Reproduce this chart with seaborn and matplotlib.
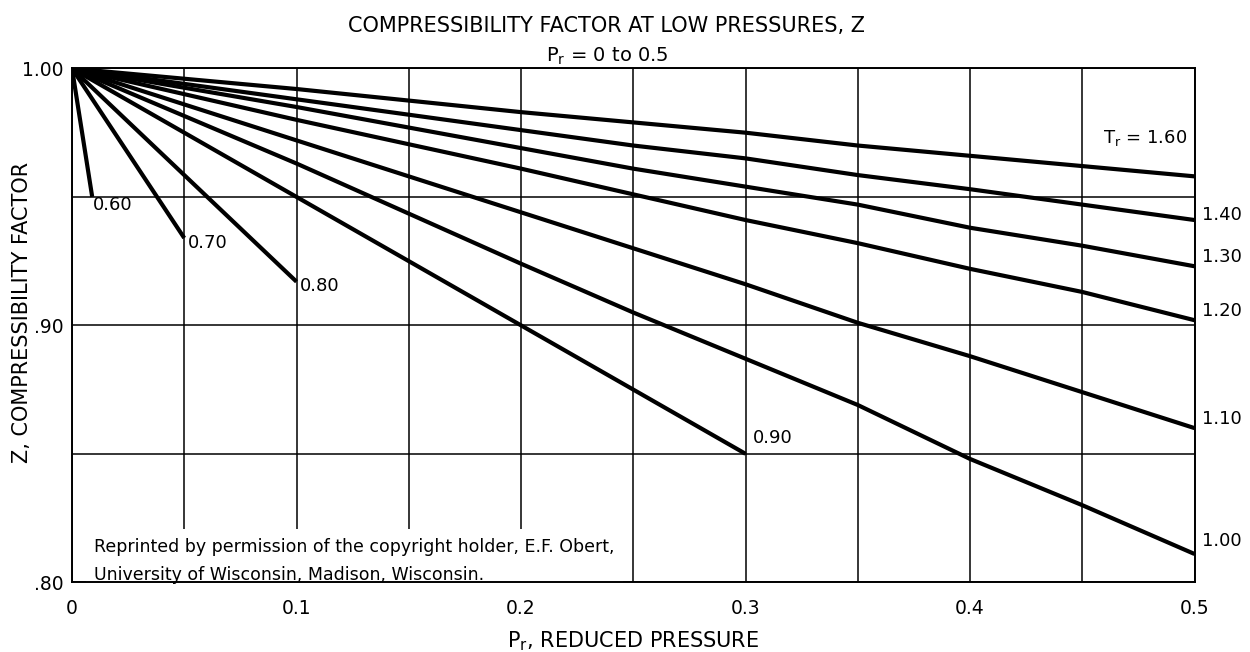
import numpy as np
import pandas as pd
import matplotlib
matplotlib.use("Agg")
import matplotlib.pyplot as plt
import seaborn as sns
from matplotlib.ticker import MultipleLocator

# curve data (Pr, Z) for each reduced temperature
tr_labels = ["0.60", "0.70", "0.80", "0.90", "1.00", "1.10", "1.20", "1.30", "1.40", "1.60"]
pr_060 = [0.0, 0.009]
z_060 = [1.0, 0.950]
pr_070 = [0.0, 0.05]
z_070 = [1.0, 0.934]
pr_080 = [0.0, 0.1]
z_080 = [1.0, 0.917]
pr_090 = [0.0, 0.1, 0.2, 0.25, 0.3]
z_090 = [1.0, 0.950, 0.900, 0.875, 0.850]
pr_full = [0.0, 0.1, 0.2, 0.25, 0.3, 0.35, 0.4, 0.45, 0.5]
z_100 = [1.0, 0.963, 0.924, 0.905, 0.887, 0.869, 0.848, 0.830, 0.811]
z_110 = [1.0, 0.972, 0.944, 0.930, 0.916, 0.901, 0.888, 0.874, 0.860]
z_120 = [1.0, 0.980, 0.961, 0.951, 0.941, 0.932, 0.922, 0.913, 0.902]
z_130 = [1.0, 0.985, 0.969, 0.961, 0.954, 0.947, 0.938, 0.931, 0.923]
z_140 = [1.0, 0.988, 0.976, 0.970, 0.965, 0.9585, 0.953, 0.947, 0.941]
z_160 = [1.0, 0.992, 0.983, 0.979, 0.975, 0.970, 0.966, 0.962, 0.958]

curves = {
    "0.60": (pr_060, z_060), "0.70": (pr_070, z_070), "0.80": (pr_080, z_080),
    "0.90": (pr_090, z_090), "1.00": (pr_full, z_100), "1.10": (pr_full, z_110),
    "1.20": (pr_full, z_120), "1.30": (pr_full, z_130), "1.40": (pr_full, z_140),
    "1.60": (pr_full, z_160),
}
rows = []
for tr in tr_labels:
    xs, ys = curves[tr]
    for x, y in zip(xs, ys):
        rows.append({"Pr": x, "Z": y, "Tr": tr})
df = pd.DataFrame(rows)

x_ticks = [0, 0.1, 0.2, 0.3, 0.4, 0.5]
x_ticklabels = ["0", "0.1", "0.2", "0.3", "0.4", "0.5"]
y_ticks = [0.80, 0.90, 1.00]
y_ticklabels = [".80", ".90", "1.00"]

sns.set_style("white")
plt.rcParams["font.family"] = ["DejaVu Sans"]
for key in ["text.color", "axes.labelcolor", "xtick.color", "ytick.color"]:
    plt.rcParams[key] = "black"

fig = plt.figure(figsize=(12.5, 6.52), dpi=100)
ax = fig.add_axes([0.0576, 0.107, 0.898, 0.788])

sns.lineplot(data=df, x="Pr", y="Z", hue="Tr", palette=["black"] * len(tr_labels),
             legend=False, linewidth=3.0, sort=False, estimator=None, ax=ax,
             solid_capstyle="butt", zorder=5)

ax.set_xlim(0, 0.5)
ax.set_ylim(0.80, 1.00)
ax.set_xticks(x_ticks)
ax.set_xticklabels(x_ticklabels)
ax.set_yticks(y_ticks)
ax.set_yticklabels(y_ticklabels)
ax.xaxis.set_minor_locator(MultipleLocator(0.05))
ax.yaxis.set_minor_locator(MultipleLocator(0.05))
ax.grid(True, which="both", color="black", linewidth=1.1, zorder=0)
ax.set_axisbelow(True)
ax.tick_params(axis="x", which="both", length=0, labelsize=13.5, pad=12)
ax.tick_params(axis="y", which="both", length=0, labelsize=13.5, pad=6)
for s in ax.spines.values():
    s.set_color("black")
    s.set_linewidth(1.4)
    s.set_zorder(7)

ax.set_xlabel("P$_\\mathregular{r}$, REDUCED PRESSURE", fontsize=15, labelpad=8)
ax.set_ylabel("Z, COMPRESSIBILITY FACTOR", fontsize=15)
ax.yaxis.set_label_coords(-0.036, 0.525)

fig.text(0.485, 0.960, "COMPRESSIBILITY FACTOR AT LOW PRESSURES, Z", ha="center", va="center", fontsize=15)
fig.text(0.486, 0.913, "P$_\\mathregular{r}$ = 0 to 0.5", ha="center", va="center", fontsize=14)

# curve labels
ax.text(0.0095, 0.947, "0.60", ha="left", va="center", fontsize=13, zorder=6)
ax.text(0.0515, 0.932, "0.70", ha="left", va="center", fontsize=13, zorder=6)
ax.text(0.1015, 0.9154, "0.80", ha="left", va="center", fontsize=13, zorder=6)
ax.text(0.3035, 0.856, "0.90", ha="left", va="center", fontsize=13, zorder=6)
ax.text(0.4965, 0.973, "T$_\\mathregular{r}$ = 1.60", ha="right", va="center", fontsize=13, zorder=6)
for tr, z in [("1.40", 0.9395), ("1.30", 0.923), ("1.20", 0.902), ("1.10", 0.860), ("1.00", 0.8125)]:
    ax.text(1.007, z + 0.0035, tr, transform=ax.get_yaxis_transform(), ha="left", va="center", fontsize=13)

ax.text(0.01, 0.7995,
        "Reprinted by permission of the copyright holder, E.F. Obert,\n"
        "University of Wisconsin, Madison, Wisconsin.",
        ha="left", va="bottom", fontsize=12.5, fontweight="medium", linespacing=1.7, zorder=4,
        bbox=dict(facecolor="white", edgecolor="none", pad=6))

fig.savefig("out.png", dpi=100, facecolor="white")
